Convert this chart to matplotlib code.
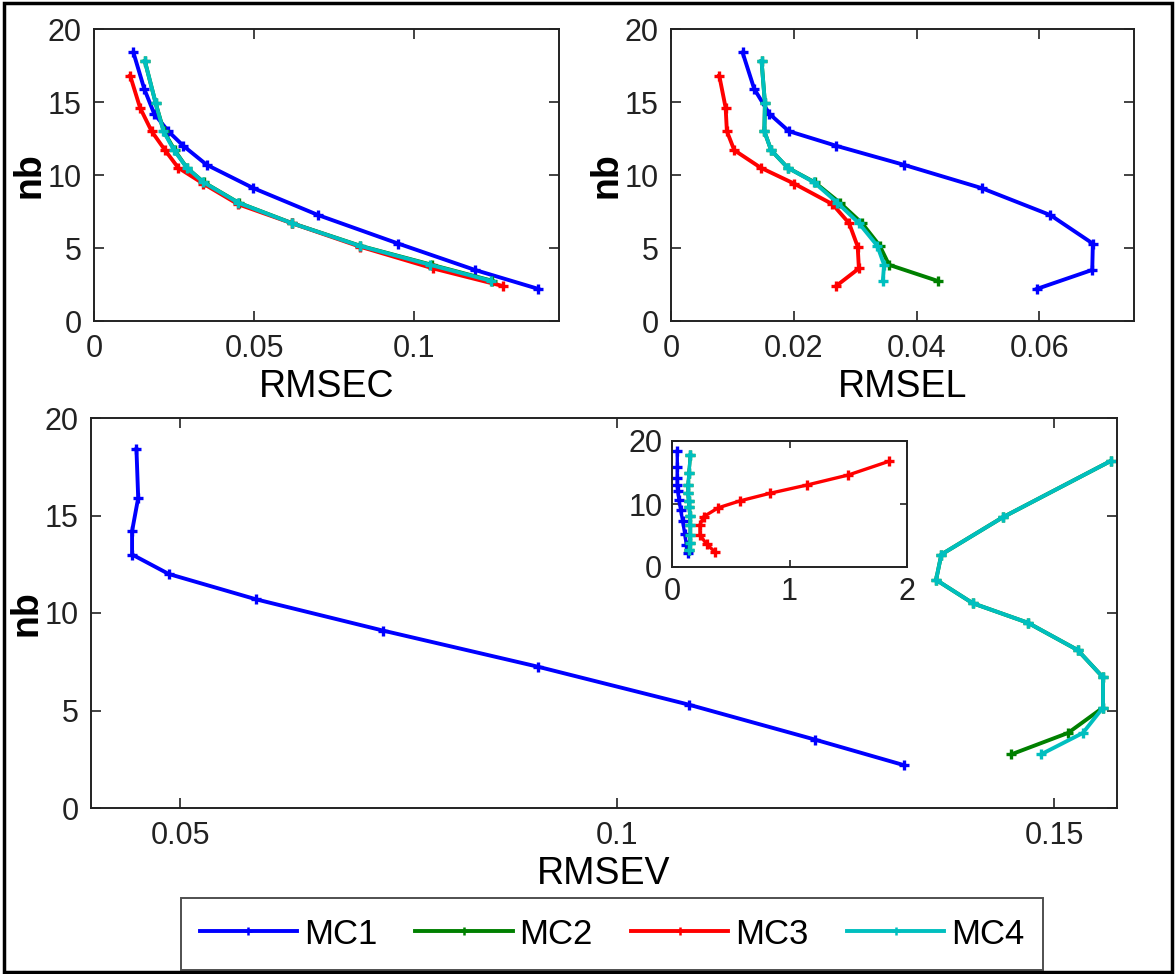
import matplotlib
matplotlib.use("Agg")
import matplotlib.pyplot as plt
from matplotlib.lines import Line2D
from matplotlib.patches import Rectangle

plt.rcParams['font.family'] = ['Liberation Sans', 'DejaVu Sans']

# ---- data -------------------------------------------------------------
series_names = ["MC1", "MC2", "MC3", "MC4"]
series_colors = ["#0000ff", "#008000", "#ff0000", "#00bfbf"]

nb_mc1 = [18.4, 15.9, 14.2, 13.0, 12.0, 10.7, 9.1, 7.25, 5.3, 3.5, 2.2]
nb_mc2 = [17.8, 14.9, 13.0, 11.7, 10.5, 9.5, 8.1, 6.7, 5.15, 3.85, 2.75]
nb_mc3 = [16.8, 14.6, 13.0, 11.7, 10.5, 9.4, 8.0, 6.7, 5.1, 3.6, 2.4]
nb_mc4 = [17.8, 14.9, 13.0, 11.7, 10.5, 9.5, 8.1, 6.7, 5.15, 3.85, 2.75]

rmsec_mc1 = [0.0123, 0.0157, 0.0188, 0.0232, 0.0279, 0.0352, 0.0498, 0.0701, 0.0951, 0.119, 0.1388]
rmsec_mc2 = [0.0159, 0.0193, 0.0218, 0.0252, 0.0290, 0.0343, 0.0452, 0.0619, 0.0832, 0.1055, 0.1245]
rmsec_mc3 = [0.0113, 0.0144, 0.0180, 0.0222, 0.0263, 0.0342, 0.0450, 0.0618, 0.0830, 0.1060, 0.1277]
rmsec_mc4 = [0.0159, 0.0193, 0.0217, 0.0250, 0.0290, 0.0342, 0.0451, 0.0618, 0.0830, 0.1050, 0.1240]

rmsel_mc1 = [0.01165, 0.01355, 0.0160, 0.0192, 0.0269, 0.0379, 0.0506, 0.0618, 0.0687, 0.0686, 0.0596]
rmsel_mc2 = [0.01475, 0.0153, 0.0152, 0.0163, 0.0190, 0.0234, 0.0275, 0.0311, 0.0340, 0.0355, 0.0434]
rmsel_mc3 = [0.00786, 0.0089, 0.0091, 0.0103, 0.0146, 0.0201, 0.0263, 0.0290, 0.0304, 0.0306, 0.0269]
rmsel_mc4 = [0.01475, 0.0153, 0.0152, 0.0163, 0.0190, 0.0233, 0.0271, 0.0306, 0.0336, 0.0347, 0.0345]

rmsev_mc1 = [0.0450, 0.0452, 0.0445, 0.0445, 0.0487, 0.0587, 0.0732, 0.0909, 0.1082, 0.1227, 0.1328]
rmsev_mc2 = [0.1565, 0.1441, 0.1371, 0.1365, 0.1407, 0.1470, 0.1527, 0.1556, 0.1556, 0.1516, 0.1451]
rmsev_mc3 = [1.85, 1.50, 1.146, 0.834, 0.579, 0.394, 0.27, 0.238, 0.238, 0.295, 0.366]
rmsev_mc4 = [0.1565, 0.1441, 0.1371, 0.1365, 0.1407, 0.1470, 0.1527, 0.1556, 0.1556, 0.1533, 0.1485]

nb_all = [nb_mc1, nb_mc2, nb_mc3, nb_mc4]
rmsec_all = [rmsec_mc1, rmsec_mc2, rmsec_mc3, rmsec_mc4]
rmsel_all = [rmsel_mc1, rmsel_mc2, rmsel_mc3, rmsel_mc4]
rmsev_all = [rmsev_mc1, rmsev_mc2, rmsev_mc3, rmsev_mc4]

# ---- figure -----------------------------------------------------------
W, H = 1176, 974
fig = plt.figure(figsize=(W / 100, H / 100), dpi=100)
fig.patch.set_facecolor("white")


def px_axes(x0, y0, x1, y1):
    """Axes rectangle given in pixel coordinates (top-left origin)."""
    return fig.add_axes([x0 / W, 1 - y1 / H, (x1 - x0) / W, (y1 - y0) / H])


def style(ax, size=22):
    for s in ax.spines.values():
        s.set_linewidth(1.4)
        s.set_color("#222222")
    ax.tick_params(direction="in", top=True, right=True, length=7,
                   width=1.2, pad=9, labelsize=size, colors="#222222")


def draw(ax, xs_all, lw=2.8, ms=7.5):
    for xs, ys, c, name in zip(xs_all, nb_all, series_colors, series_names):
        ax.plot(xs, ys, color=c, lw=lw, marker="+", ms=ms, mew=2.4, label=name)


LABEL_SIZE = 27

# RMSEC
ax1 = px_axes(94, 29, 559, 321)
draw(ax1, rmsec_all)
ax1.set_xlim(0, 0.1453)
ax1.set_ylim(0, 20)
ax1.set_xticks([0, 0.05, 0.1])
ax1.set_xticklabels(["0", "0.05", "0.1"])
ax1.set_yticks([0, 5, 10, 15, 20])
style(ax1)
ax1.set_xlabel("RMSEC", fontsize=LABEL_SIZE, labelpad=4)
ax1.set_ylabel("nb", fontsize=LABEL_SIZE, fontweight="bold", labelpad=0)

# RMSEL
ax2 = px_axes(671, 29, 1134, 321)
draw(ax2, rmsel_all)
ax2.set_xlim(0, 0.0754)
ax2.set_ylim(0, 20)
ax2.set_xticks([0, 0.02, 0.04, 0.06])
ax2.set_xticklabels(["0", "0.02", "0.04", "0.06"])
ax2.set_yticks([0, 5, 10, 15, 20])
style(ax2)
ax2.set_xlabel("RMSEL", fontsize=LABEL_SIZE, labelpad=4)
ax2.set_ylabel("nb", fontsize=LABEL_SIZE, fontweight="bold", labelpad=0)

# RMSEV
ax3 = px_axes(91, 418, 1117, 808)
draw(ax3, rmsev_all)
ax3.set_xlim(0.0398, 0.1572)
ax3.set_ylim(0, 20)
ax3.set_xticks([0.05, 0.1, 0.15])
ax3.set_xticklabels(["0.05", "0.1", "0.15"])
ax3.set_yticks([0, 5, 10, 15, 20])
style(ax3)
ax3.set_xlabel("RMSEV", fontsize=LABEL_SIZE, labelpad=4)
ax3.set_ylabel("nb", fontsize=LABEL_SIZE, fontweight="bold", labelpad=0)

# full-range RMSEV inset
ax4 = px_axes(672, 441, 907, 567)
draw(ax4, rmsev_all, lw=2.4, ms=6.5)
ax4.set_xlim(0, 2)
ax4.set_ylim(0, 20)
ax4.set_xticks([0, 1, 2])
ax4.set_yticks([0, 10, 20])
style(ax4)
ax4.tick_params(length=5, pad=7)

# legend
handles = [Line2D([], [], color=c, lw=2.8, marker="+", ms=6, mew=1.8)
           for c in series_colors]
leg = fig.legend(handles, series_names, loc="center", ncol=4,
                 bbox_to_anchor=(612 / W, 1 - 934 / H), fontsize=25,
                 frameon=True, fancybox=False, edgecolor="#222222",
                 handlelength=2.8, handletextpad=0.2, columnspacing=1.1,
                 borderpad=0.55)
leg.get_frame().set_linewidth(1.4)

# outer frame
fig.add_artist(Rectangle((4 / W, 2 / H), (W - 8) / W, (H - 5) / H,
                         transform=fig.transFigure, fill=False,
                         lw=2.5, edgecolor="black"))

fig.savefig("out.png", dpi=100, facecolor="white")
